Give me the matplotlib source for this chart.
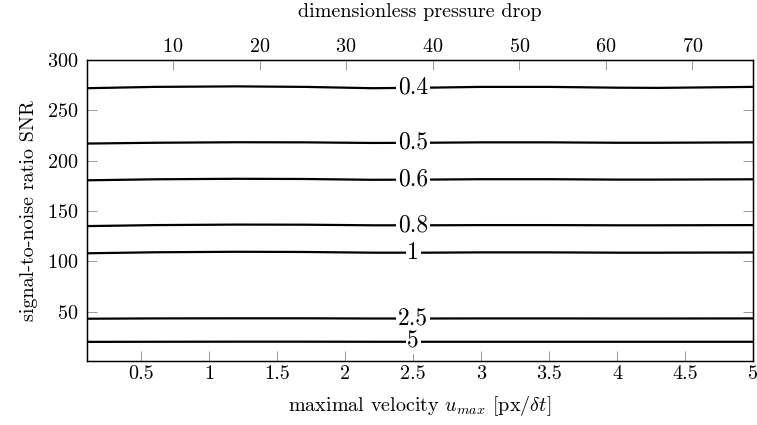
import matplotlib.pyplot as plt

plt.rcParams['font.family'] = 'serif'
plt.rcParams['font.serif'] = ['cmr10', 'DejaVu Serif']
plt.rcParams['mathtext.fontset'] = 'cm'
plt.rcParams['axes.formatter.use_mathtext'] = True

# contour levels of the error
levels = ['0.4', '0.5', '0.6', '0.8', '1', '2.5', '5']
u_max = [0.1, 0.6, 1.2, 1.7, 2.2, 2.6, 3.0, 3.5, 4.0, 4.3, 5.0]
snr_04 = [272, 273.3, 273.8, 273.3, 272, 272.5, 273.3, 273.3, 272.5, 272.3, 273.3]
snr_05 = [217, 217.8, 218.3, 218.2, 217.6, 217.8, 218.2, 218.2, 217.8, 217.8, 218.2]
snr_06 = [180.5, 181.5, 182, 181.8, 181, 181.2, 181.6, 181.6, 181.2, 181.2, 181.5]
snr_08 = [135, 136, 136.5, 136.4, 135.8, 135.8, 136, 136, 135.8, 135.8, 136]
snr_1 = [108, 109, 109.5, 109.3, 108.6, 108.6, 108.9, 108.9, 108.6, 108.6, 108.8]
snr_25 = [43, 43.3, 43.4, 43.4, 43.2, 43.2, 43.3, 43.3, 43.2, 43.2, 43.3]
snr_5 = [20, 20.1, 20.2, 20.2, 20.1, 20.1, 20.1, 20.1, 20.1, 20.1, 20.1]
curves = [snr_04, snr_05, snr_06, snr_08, snr_1, snr_25, snr_5]
label_u = 2.5

x_ticks = [0.5, 1, 1.5, 2, 2.5, 3, 3.5, 4, 4.5, 5]
y_ticks = [50, 100, 150, 200, 250, 300]
top_ticks = [10, 20, 30, 40, 50, 60, 70]

fs = 14.5

fig = plt.figure(figsize=(7.57, 4.25), dpi=100)
ax = fig.add_axes([0.1149, 0.1506, 0.8798, 0.7082])

for lev, snr in zip(levels, curves):
    ax.plot(u_max, snr, color='black', lw=1.6, solid_capstyle='butt')
    y_lab = snr[u_max.index(2.6)]
    ax.text(label_u, y_lab, lev, fontsize=17, ha='center', va='center',
            bbox=dict(facecolor='white', edgecolor='none', pad=1.2))

ax.set_xlim(0.1, 5)
ax.set_ylim(1, 300)
ax.set_xticks(x_ticks)
ax.set_xticklabels([f'{t:g}' for t in x_ticks])
ax.set_yticks(y_ticks)
ax.tick_params(direction='in', length=7, width=0.7, color='#999999',
               labelsize=fs, labelcolor='black', right=True, top=False)
ax.tick_params(axis='x', pad=3)
ax.tick_params(axis='y', pad=6)
ax.set_xlabel(r'maximal velocity $u_{max}$ [px/$\delta t$]', fontsize=fs, labelpad=8)
ax.set_ylabel('signal-to-noise ratio SNR', fontsize=fs, labelpad=7)
for sp in ax.spines.values():
    sp.set_linewidth(1.0)

ax2 = ax.twiny()
ax2.set_xlim(0.07, 77)
ax2.set_xticks(top_ticks)
ax2.tick_params(direction='in', length=7, width=0.7, color='#999999',
                labelsize=fs, labelcolor='black', pad=3)
ax2.set_xlabel('dimensionless pressure drop', fontsize=fs, labelpad=15)

fig.savefig('out.png', dpi=100)
